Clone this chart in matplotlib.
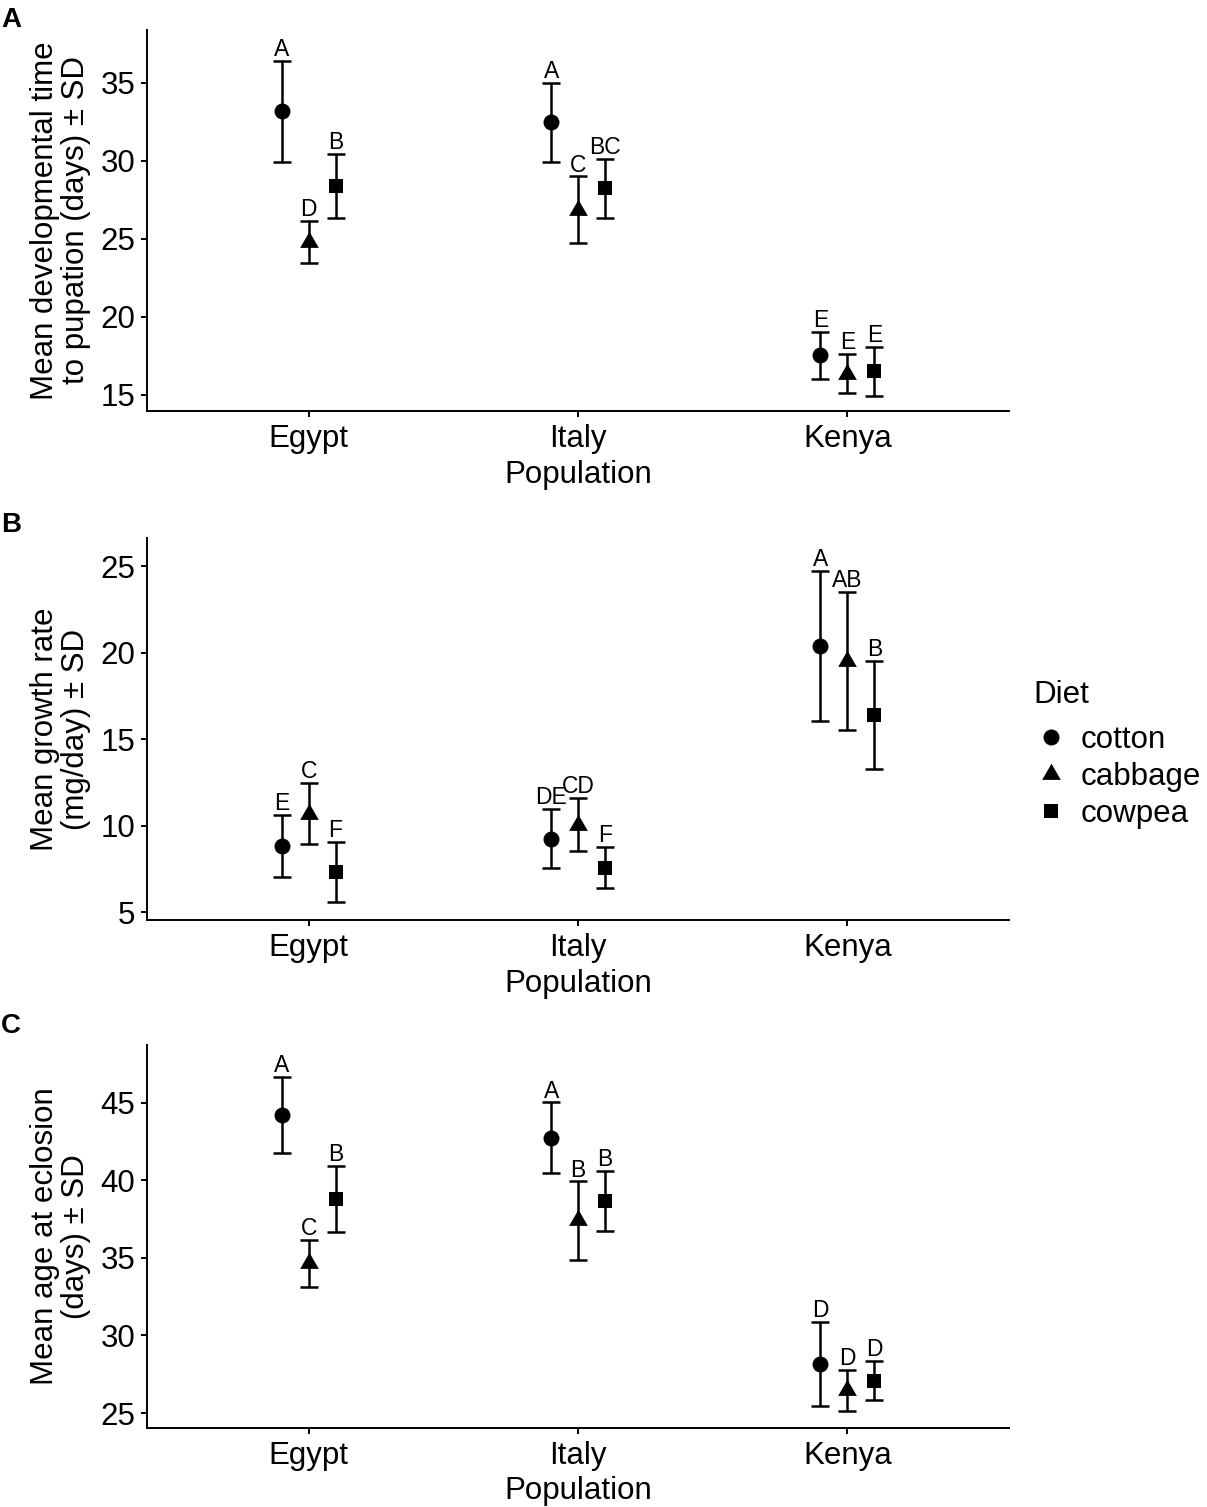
import matplotlib
matplotlib.use('Agg')
import matplotlib.pyplot as plt
from matplotlib.lines import Line2D

plt.rcParams['font.family'] = ['Liberation Sans', 'DejaVu Sans']

populations = ['Egypt', 'Italy', 'Kenya']
diets = ['cotton', 'cabbage', 'cowpea']

# rows: cotton, cabbage, cowpea; columns: Egypt, Italy, Kenya
dev_mean = [[33.17, 32.47, 17.55],
            [24.80, 26.85, 16.37],
            [28.38, 28.24, 16.52]]
dev_sd = [[3.23, 2.53, 1.51],
          [1.34, 2.15, 1.24],
          [2.07, 1.89, 1.56]]
dev_letters = [['A', 'A', 'E'],
               ['D', 'C', 'E'],
               ['B', 'BC', 'E']]

growth_mean = [[8.83, 9.26, 20.38],
               [10.71, 10.07, 19.50],
               [7.33, 7.58, 16.40]]
growth_sd = [[1.78, 1.69, 4.32],
             [1.75, 1.55, 3.99],
             [1.72, 1.18, 3.10]]
growth_letters = [['E', 'DE', 'A'],
                  ['C', 'CD', 'AB'],
                  ['F', 'F', 'B']]

ecl_mean = [[44.22, 42.76, 28.15],
            [34.65, 37.42, 26.48],
            [38.78, 38.66, 27.09]]
ecl_sd = [[2.44, 2.27, 2.73],
          [1.53, 2.52, 1.32],
          [2.13, 1.93, 1.26]]
ecl_letters = [['A', 'A', 'D'],
               ['C', 'B', 'D'],
               ['B', 'B', 'D']]

# equilateral triangle like ggplot shape 17
tri = [(0, 0.577), (-0.5, -0.289), (0.5, -0.289), (0, 0.577)]
markers = ['o', tri, 's']
msizes = [11.5, 15.5, 10]
offsets = [-0.1, 0.0, 0.1]

TXT = 22.5
LW = 1.4
ELW = 1.8


def draw_panel(ax, means, sds, letters, yticks, ylim, ylabel):
    for i in range(len(diets)):
        xs = [p + 1 + offsets[i] for p in range(len(populations))]
        ax.errorbar(xs, means[i], yerr=sds[i], fmt='none', ecolor='black',
                    elinewidth=ELW, capsize=6.5, capthick=ELW, zorder=2)
        ax.plot(xs, means[i], linestyle='none', marker=markers[i],
                ms=msizes[i], color='black', mew=0, zorder=3)
        for x, m, s, lab in zip(xs, means[i], sds[i], letters[i]):
            ax.annotate(lab, (x, m + s), xytext=(0, 3.5), textcoords='offset points',
                        ha='center', va='baseline', fontsize=16.5)
    ax.set_xlim(0.4, 3.6)
    ax.set_ylim(*ylim)
    ax.set_xticks([1, 2, 3])
    ax.set_xticklabels(populations)
    ax.set_yticks(yticks)
    ax.spines['top'].set_visible(False)
    ax.spines['right'].set_visible(False)
    for sp in ['left', 'bottom']:
        ax.spines[sp].set_linewidth(LW)
    ax.tick_params(axis='both', labelsize=TXT, length=4, width=LW, colors='black')
    ax.tick_params(axis='x', pad=5.5)
    ax.tick_params(axis='y', pad=4.5)
    ax.set_xlabel('Population', fontsize=TXT, labelpad=4)
    ax.set_ylabel(ylabel, fontsize=TXT, linespacing=1.05)
    ax.yaxis.set_label_coords(-0.065, 0.5)


fig = plt.figure(figsize=(12.07, 15.07), dpi=100)
ax1 = fig.add_axes([0.1218, 0.7273, 0.7142, 0.2530])
ax2 = fig.add_axes([0.1218, 0.3895, 0.7142, 0.2533])
ax3 = fig.add_axes([0.1218, 0.0526, 0.7142, 0.2538])

draw_panel(ax1, dev_mean, dev_sd, dev_letters, [15, 20, 25, 30, 35], (13.97, 38.4),
           'Mean developmental time\nto pupation (days) \u00b1 SD')
draw_panel(ax2, growth_mean, growth_sd, growth_letters, [5, 10, 15, 20, 25], (4.56, 26.6),
           'Mean growth rate\n(mg/day) \u00b1 SD')
draw_panel(ax3, ecl_mean, ecl_sd, ecl_letters, [25, 30, 35, 40, 45], (24.05, 48.72),
           'Mean age at eclosion\n(days) \u00b1 SD')

fig.text(0.001, 1 - 7 / 1507, 'A', fontsize=20, weight='bold', va='top')
fig.text(0.001, 1 - 512 / 1507, 'B', fontsize=20, weight='bold', va='top')
fig.text(0.001, 1 - 1013 / 1507, 'C', fontsize=20, weight='bold', va='top')

# legend
fig.text(1033 / 1207, 1 - 680 / 1507, 'Diet', fontsize=TXT, va='top', ha='left')
handles = [Line2D([], [], linestyle='none', marker=markers[i], ms=msizes[i],
                  color='black', mew=0) for i in range(len(diets))]
fig.legend(handles, diets, loc='upper left', bbox_to_anchor=(1033 / 1207, 1 - 725 / 1507),
           frameon=False, fontsize=TXT, handlelength=1.15, handletextpad=0.38,
           borderpad=0, borderaxespad=0, labelspacing=0.22)

fig.savefig('out.png', dpi=100)
